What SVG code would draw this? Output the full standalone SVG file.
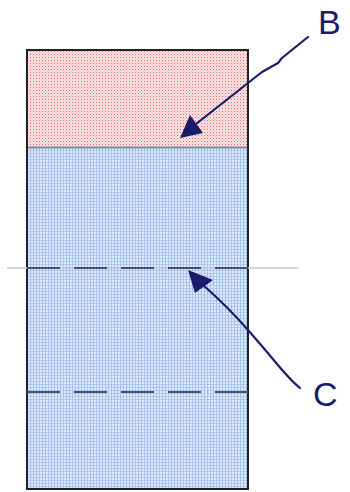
<svg xmlns="http://www.w3.org/2000/svg" width="350" height="492" viewBox="0 0 350 492">
  <defs>
    <pattern id="redDots" width="3" height="3" patternUnits="userSpaceOnUse">
      <rect width="3" height="3" fill="#f8e4e4"/>
      <rect x="0" y="0" width="1" height="1" fill="#e06a6a"/>
      <rect x="1.5" y="1.5" width="1" height="1" fill="#eca6a6"/>
    </pattern>
    <pattern id="blueGrid" width="3" height="3" patternUnits="userSpaceOnUse">
      <rect width="3" height="3" fill="#dce9fa"/>
      <rect x="0" y="0" width="3" height="1" fill="#b2caee"/>
      <rect x="0" y="0" width="1" height="3" fill="#a6c1ec"/>
    </pattern>
    <style>
      .lbl { font-family: "Liberation Sans", Arial, sans-serif; font-size: 34px; fill: #1b1b6b; }
      .arrow { fill: none; stroke: #1b1b6b; stroke-width: 2.2; stroke-linecap: round; stroke-linejoin: round; }
      .head { fill: #1b1b6b; }
      .dash { stroke: #4a5060; stroke-width: 2; stroke-dasharray: 33 14; fill: none; }
    </style>
  </defs>

  <g id="block">
    <rect id="regionB" x="27" y="50" width="221" height="97" fill="url(#redDots)"/>
    <rect id="regionC" x="27" y="147" width="221" height="342" fill="url(#blueGrid)"/>
    <line x1="27" y1="147.5" x2="248" y2="147.5" stroke="#7a8a9e" stroke-width="2"/>
    <rect x="27" y="50" width="221" height="439" fill="none" stroke="#222" stroke-width="2"/>
  </g>

  <g id="levels">
    <line x1="7" y1="268" x2="298" y2="268" stroke="#c4c4c4" stroke-width="1.5"/>
    <line class="dash" x1="27" y1="268" x2="248" y2="268" stroke="#5a6272"/>
    <line class="dash" x1="27" y1="392" x2="248" y2="392"/>
  </g>

  <g id="connectors">
    <path class="arrow" d="M308,37 L282,58 L278,63 L262,72 L248,83 L196,124"/>
    <path class="head" d="M180,138 L190,115 L203,133 Z"/>
    <path class="arrow" d="M300,388 C290,380 282,370 272,358 C262,346 255,338 248,330 C235,315 220,300 203,285"/>
    <path class="head" d="M188,270 L195,293 L213,280 Z"/>
  </g>

  <g id="labelB"><text class="lbl" x="318" y="34">B</text></g>
  <g id="labelC"><text class="lbl" x="313" y="406">C</text></g>
</svg>
